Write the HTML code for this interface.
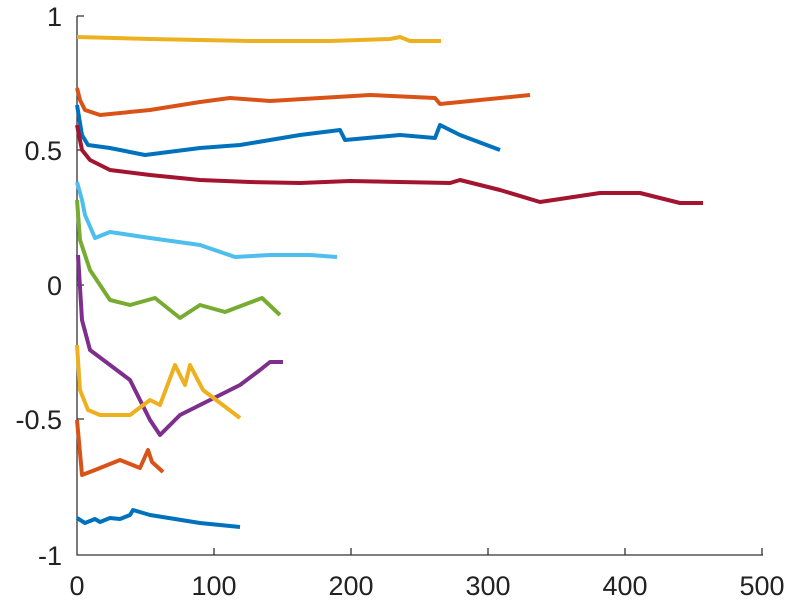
<!DOCTYPE html><html><head><style>body{margin:0;background:#fff}</style></head><body>
<svg width="794" height="600" xmlns="http://www.w3.org/2000/svg" font-family="Liberation Sans, sans-serif" font-size="27" fill="#222">
<g stroke="#333" stroke-width="1.3" fill="none">
<path d="M77,16 V555 H763"/>
<path d="M214,555 v-7 M351,555 v-7 M488,555 v-7 M625,555 v-7 M762,555 v-7"/>
<path d="M77,16 h7 M77,150 h7 M77,285 h7 M77,419 h7"/>
</g>
<g text-anchor="end"><text x="62" y="26">1</text><text x="62" y="160">0.5</text><text x="62" y="295">0</text><text x="62" y="429">-0.5</text><text x="62" y="565">-1</text></g>
<g text-anchor="middle"><text x="77" y="595">0</text><text x="214" y="595">100</text><text x="351" y="595">200</text><text x="488" y="595">300</text><text x="625" y="595">400</text><text x="762" y="595">500</text></g>
<g fill="none" stroke-width="4" stroke-linejoin="round">
<polyline stroke="#EDB120" points="77,37 150,39 250,41 330,41 390,39 400,37 410,41 441,41"/>
<polyline stroke="#D95319" points="77,88 80,100 85,110 100,115 150,110 200,102 230,98 270,101 320,98 370,95 435,98 440,104 480,100 530,95"/>
<polyline stroke="#0072BD" points="77,105 82,135 88,145 110,148 145,155 200,148 240,145 300,135 340,130 345,140 400,135 435,138 440,125 460,135 500,150"/>
<polyline stroke="#A2142F" points="77,125 82,150 90,160 110,170 150,175 200,180 250,182 300,183 350,181 400,182 450,183 460,180 500,190 540,202 600,193 640,193 680,203 703,203"/>
<polyline stroke="#4DBEEE" points="77,182 82,200 85,215 95,238 110,232 150,238 200,245 235,257 270,255 310,255 337,257"/>
<polyline stroke="#77AC30" points="77,200 80,240 90,270 110,300 130,305 155,298 180,318 200,305 225,312 262,298 280,315"/>
<polyline stroke="#7E2F8E" points="78,255 82,320 90,350 110,365 130,380 150,420 160,435 180,415 210,400 240,385 260,370 270,362 283,362"/>
<polyline stroke="#EDB120" points="77,345 80,390 88,410 100,415 130,415 150,400 160,405 175,365 185,385 190,365 203,390 240,418"/>
<polyline stroke="#D95319" points="77,420 82,475 95,470 120,460 140,468 148,450 152,462 163,472"/>
<polyline stroke="#0072BD" points="77,518 85,523 95,519 100,522 110,518 120,519 130,515 133,510 150,515 200,523 240,527"/>
</g>
</svg></body></html>
